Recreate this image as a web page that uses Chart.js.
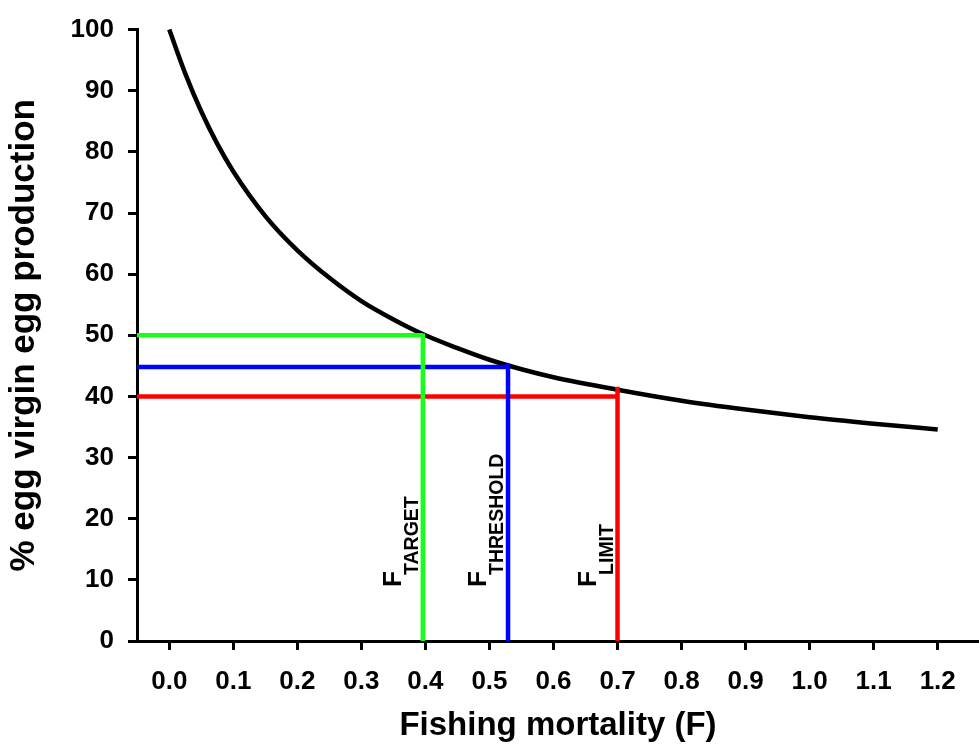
<!DOCTYPE html>
<html><head><meta charset="utf-8">
<script src="https://cdn.jsdelivr.net/npm/chart.js@4/dist/chart.umd.min.js"></script>
<style>html,body{margin:0;padding:0;background:#fff;} canvas{display:block;}</style>
</head><body>
<canvas id="c" width="979" height="756"></canvas>
<script>
// ---- data ----
const fValues = [0, 0.025, 0.05, 0.075, 0.1, 0.15, 0.2, 0.25, 0.3, 0.35, 0.4, 0.45, 0.5, 0.55, 0.6, 0.7, 0.8, 0.9, 1.0, 1.1, 1.2];
const eggPct  = [100, 92.8, 86.6, 81.3, 76.8, 69.5, 63.9, 59.4, 55.6, 52.6, 50.0, 47.9, 46.0, 44.45, 43.15, 41.1, 39.3, 37.85, 36.6, 35.55, 34.6];
const xTickValues = [0, 0.1, 0.2, 0.3, 0.4, 0.5, 0.6, 0.7, 0.8, 0.9, 1.0, 1.1, 1.2];
const yTickValues = [0, 10, 20, 30, 40, 50, 60, 70, 80, 90, 100];
const refNames = ['TARGET', 'THRESHOLD', 'LIMIT'];
const refF = [0.396, 0.529, 0.70];
const refPct = [50, 44.8, 40];
const refCurve = [50.3, 45.4, 41.6];
const refColors = ['#1aff1a', '#0000ff', '#ff0000'];
const xTitle = 'Fishing mortality (F)';
const yTitle = '% egg virgin egg production';

const X_MIN = -0.0504, X_MAX = 1.2645;
const LABEL_BASE = 8.84;
const FONT = '"Liberation Sans", Arial, Helvetica, sans-serif';

const datasets = [];
refF.forEach((f, i) => {
  datasets.push({
    data: [{x: X_MIN, y: refPct[i]}, {x: f, y: refPct[i]}],
    borderColor: refColors[i], borderWidth: 4.5, pointRadius: 0, showLine: true,
    fill: false, order: 0
  });
  datasets.push({
    data: [{x: f, y: 0}, {x: f, y: refCurve[i]}],
    borderColor: refColors[i], borderWidth: 4.5, pointRadius: 0, showLine: true,
    fill: false, order: 0
  });
});
datasets.push({
  data: fValues.map((f, i) => ({x: f, y: eggPct[i]})),
  borderColor: '#000', borderWidth: 4.5, pointRadius: 0, showLine: true,
  cubicInterpolationMode: 'monotone', fill: false, order: 1
});

const labelPlugin = {
  id: 'refLabels',
  afterDatasetsDraw(chart) {
    const {ctx, scales: {x, y}} = chart;
    refNames.forEach((name, i) => {
      const px = x.getPixelForValue(refF[i]);
      const py = y.getPixelForValue(LABEL_BASE);
      ctx.save();
      ctx.translate(px - 22, py);
      ctx.rotate(-Math.PI / 2);
      ctx.fillStyle = '#000';
      ctx.textBaseline = 'alphabetic';
      ctx.textAlign = 'left';
      ctx.font = 'bold 26px ' + FONT;
      ctx.fillText('F', 0, 0);
      ctx.font = 'bold 19.5px ' + FONT;
      ctx.fillText(name, 12, 17);
      ctx.restore();
    });
  }
};

new Chart(document.getElementById('c'), {
  type: 'scatter',
  data: {datasets},
  plugins: [labelPlugin],
  options: {
    responsive: false,
    animation: false,
    clip: false,
    layout: {padding: {top: 29, right: 0, left: 0, bottom: 0}},
    plugins: {legend: {display: false}, tooltip: {enabled: false}},
    scales: {
      x: {
        type: 'linear', min: X_MIN, max: X_MAX,
        afterFit(s) { s.height = 115; },
        afterBuildTicks(s) { s.ticks = xTickValues.map(v => ({value: v})); },
        grid: {display: true, drawOnChartArea: false, drawTicks: true, tickLength: 9, color: '#000', lineWidth: 3},
        border: {display: true, color: '#000', width: 3},
        ticks: {color: '#000', padding: 16, maxRotation: 0, autoSkip: false,
          font: {family: FONT, size: 26, weight: 'bold'},
          callback: v => Number(v).toFixed(1)},
        title: {display: true, text: xTitle, color: '#000',
          font: {family: FONT, size: 33, weight: 'bold'}, padding: {top: 0, bottom: 10}}
      },
      y: {
        type: 'linear', min: 0, max: 100,
        afterFit(s) { s.width = 137; },
        afterBuildTicks(s) { s.ticks = yTickValues.map(v => ({value: v})); },
        grid: {display: true, drawOnChartArea: false, drawTicks: true, tickLength: 9, color: '#000', lineWidth: 3},
        border: {display: true, color: '#000', width: 3},
        ticks: {color: '#000', padding: 14, autoSkip: false,
          font: {family: FONT, size: 26, weight: 'bold'},
          callback: v => String(v)},
        title: {display: true, text: yTitle, color: '#000',
          font: {family: FONT, size: 35, weight: 'bold'}, padding: {top: 3, bottom: 0}}
      }
    }
  }
});
</script>
</body></html>
